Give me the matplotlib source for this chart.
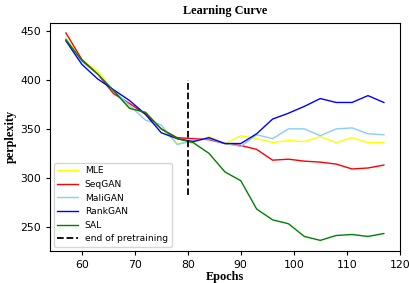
import numpy as np
import matplotlib.pyplot as plt

epochs = list(range(57, 118, 3))

mle = [443, 420, 409, 389, 371, 366, 350, 335, 336, 342, 335, 343, 340, 336, 338, 337, 342, 336, 341, 336, 336]
seqgan = [448, 421, 406, 386, 376, 365, 350, 341, 340, 339, 335, 333, 329, 318, 319, 317, 316, 314, 309, 310, 313]
maligan = [442, 419, 406, 389, 374, 359, 354, 334, 338, 340, 335, 332, 344, 340, 350, 350, 343, 350, 351, 345, 344]
rankgan = [440, 416, 401, 390, 379, 365, 346, 340, 337, 341, 335, 335, 345, 360, 366, 373, 381, 377, 377, 384, 377]
sal = [441, 420, 406, 389, 371, 367, 350, 340, 336, 325, 306, 297, 268, 257, 253, 240, 236, 241, 242, 240, 243]

series = [('MLE', mle, 'yellow'), ('SeqGAN', seqgan, 'red'),
          ('MaliGAN', maligan, 'lightskyblue'), ('RankGAN', rankgan, 'blue'),
          ('SAL', sal, 'green')]

fig = plt.figure(figsize=(4.1, 2.83), dpi=100)
ax = fig.add_axes([0.122, 0.114, 0.853, 0.806])
for name, vals, col in series:
    ax.plot(epochs, vals, color=col, lw=1.0, label=name)
ax.plot([80, 80], [282, 400], 'k--', lw=1.3, label='end of pretraining')

ax.set_title('Learning Curve', family='Liberation Serif', fontweight='bold', fontsize=8.8)
ax.set_xlabel('Epochs', family='Liberation Serif', fontweight='bold', fontsize=8.8, labelpad=1)
ax.set_ylabel('perplexity', family='Liberation Serif', fontweight='bold', fontsize=8.8, labelpad=2)
ax.tick_params(labelsize=7.8, length=3)
ax.legend(loc='lower left', fontsize=6.6, handlelength=2.2, borderaxespad=0.4)

fig.savefig('out.png', dpi=100)
